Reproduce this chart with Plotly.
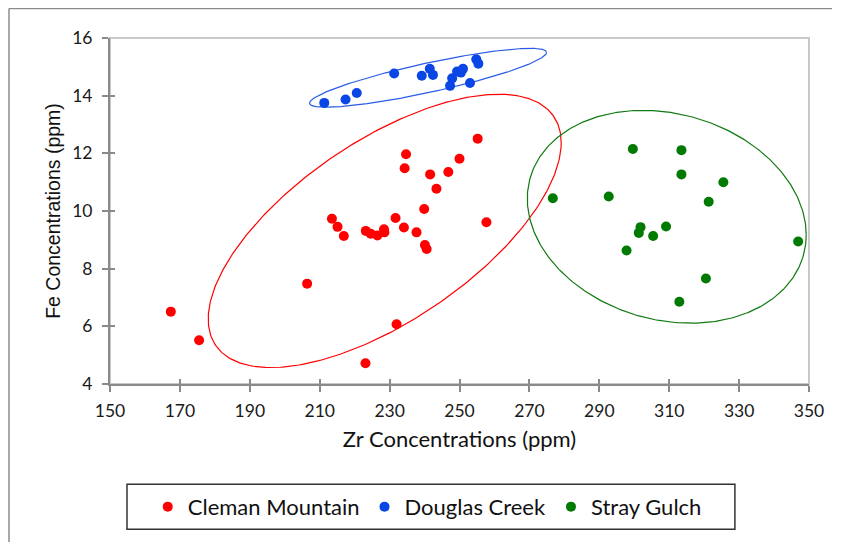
import numpy as np
import plotly.graph_objects as go

# ---------------- data ----------------
series_names = ["Cleman Mountain", "Douglas Creek", "Stray Gulch"]
series_colors = ["#ff0000", "#0a46e6", "#007a00"]
ellipse_colors = ["#ff0000", "#2a5ce6", "#117a11"]

cleman_zr = [167.4, 175.5, 206.4, 213.5, 215.1, 216.9, 223.2, 224.6, 226.5, 228.4,
             228.5, 231.7, 234.1, 237.7, 239.9, 240.1, 240.6, 232.0, 223.1, 234.7,
             234.3, 241.6, 246.8, 250.0, 243.4, 257.7, 255.2]
cleman_fe = [6.51, 5.52, 7.48, 9.73, 9.45, 9.13, 9.31, 9.21, 9.15, 9.37,
             9.26, 9.76, 9.43, 9.26, 10.07, 8.82, 8.68, 6.07, 4.72, 11.97,
             11.48, 11.27, 11.35, 11.81, 10.77, 9.61, 12.51]

douglas_zr = [211.3, 217.4, 220.6, 231.3, 239.2, 241.5, 242.4, 247.3, 247.9, 249.3,
              250.4, 251.0, 253.0, 254.8, 255.4]
douglas_fe = [13.75, 13.87, 14.09, 14.77, 14.69, 14.93, 14.72, 14.34, 14.60, 14.84,
              14.80, 14.93, 14.44, 15.26, 15.11]

stray_zr = [276.7, 292.7, 299.6, 297.8, 301.8, 301.3, 305.4, 309.1, 313.5, 313.5,
            325.5, 321.3, 320.5, 312.9, 346.9]
stray_fe = [10.44, 10.50, 12.15, 8.63, 9.44, 9.24, 9.13, 9.46, 12.11, 11.27,
            11.00, 10.32, 7.66, 6.85, 8.94]

# grouping ellipses (data units): centre, half-width, half-height, correlation
ellipse_center_zr = [228.6, 241.0, 309.3]
ellipse_center_fe = [9.31, 14.62, 9.80]
ellipse_half_width = [50.5, 33.9, 39.9]
ellipse_half_height = [4.74, 1.02, 3.69]
ellipse_corr = [0.645, 0.86, -0.17]

x_ticks = list(range(150, 351, 20))
y_ticks = list(range(4, 17, 2))

series_x = [cleman_zr, douglas_zr, stray_zr]
series_y = [cleman_fe, douglas_fe, stray_fe]

# ---------------- figure ----------------
fig = go.Figure()

t = np.linspace(0, 2 * np.pi, 400)
for i in range(3):
    phi = np.arccos(ellipse_corr[i])
    ex = ellipse_center_zr[i] + ellipse_half_width[i] * np.cos(t)
    ey = ellipse_center_fe[i] + ellipse_half_height[i] * np.cos(t - phi)
    fig.add_trace(go.Scatter(x=ex, y=ey, mode="lines",
                             line=dict(color=ellipse_colors[i], width=1.2),
                             showlegend=False, hoverinfo="skip"))

for i in range(3):
    fig.add_trace(go.Scatter(x=series_x[i], y=series_y[i], mode="markers",
                             name=series_names[i],
                             marker=dict(color=series_colors[i], size=10)))

# overlay axes just to draw the inner half of the crossing tick marks
fig.add_trace(go.Scatter(x=[None], y=[None], xaxis="x2", yaxis="y2",
                         showlegend=False, hoverinfo="skip"))

tick_font = dict(family="Lato, Carlito, sans-serif", size=17.5, color="#1a1a1a")

fig.update_layout(
    width=841, height=542,
    margin=dict(l=102, r=40, t=30, b=166),
    paper_bgcolor="white", plot_bgcolor="white",
    showlegend=True,
    xaxis=dict(range=[150, 350], tickvals=x_ticks, showgrid=False, zeroline=False,
               showline=True, linecolor="#8a8a8a", linewidth=2,
               ticks="outside", ticklen=6, tickwidth=1.5, tickcolor="#8a8a8a",
               tickfont=tick_font, ticklabelstandoff=4,
               title=dict(text="Zr Concentrations (ppm)", standoff=12,
                          font=dict(family="Lato, Carlito, sans-serif", size=22, color="#111"))),
    yaxis=dict(range=[4, 16], tickvals=y_ticks, showgrid=False, zeroline=False,
               showline=True, linecolor="#8a8a8a", linewidth=2,
               ticks="outside", ticklen=6, tickwidth=1.5, tickcolor="#8a8a8a",
               tickfont=tick_font, ticklabelstandoff=6,
               title=dict(text="Fe Concentrations (ppm)", standoff=6,
                          font=dict(family="Liberation Sans, Arial, sans-serif", size=19.5, color="#111"))),
    xaxis2=dict(range=[150, 350], tickvals=x_ticks, overlaying="x", anchor="y2",
                side="bottom", showgrid=False, zeroline=False, showline=False,
                ticks="inside", ticklen=5, tickwidth=1.5, tickcolor="#8a8a8a",
                showticklabels=False),
    yaxis2=dict(range=[4, 16], tickvals=y_ticks, overlaying="y", anchor="x2",
                side="left", showgrid=False, zeroline=False, showline=False,
                ticks="inside", ticklen=5, tickwidth=1.5, tickcolor="#8a8a8a",
                showticklabels=False),
    legend=dict(orientation="h", x=0.054, xanchor="left", y=-0.355, yanchor="middle",
                bgcolor="rgba(0,0,0,0)", borderwidth=0,
                font=dict(family="Lato, Carlito, sans-serif", size=22, color="#111")),
    shapes=[
        # light plot frame (top/right)
        dict(type="rect", xref="paper", yref="paper", x0=0, x1=1, y0=0, y1=1,
             line=dict(color="#c8c8c8", width=2), layer="below"),
        # outer chart border (left and top visible)
        dict(type="line", xref="paper", yref="paper", x0=-0.1445, x1=-0.1445,
             y0=-0.48, y1=1.085, line=dict(color="#8c8c8c", width=1.5)),
        dict(type="line", xref="paper", yref="paper", x0=-0.1445, x1=1.033,
             y0=1.085, y1=1.085, line=dict(color="#8c8c8c", width=1.5)),
        # legend box
        dict(type="rect", xref="paper", yref="paper", x0=0.0243, x1=0.894,
             y0=-0.4195, y1=-0.2895, line=dict(color="#333333", width=1.5)),
    ],
)

fig.write_html("out.html")
